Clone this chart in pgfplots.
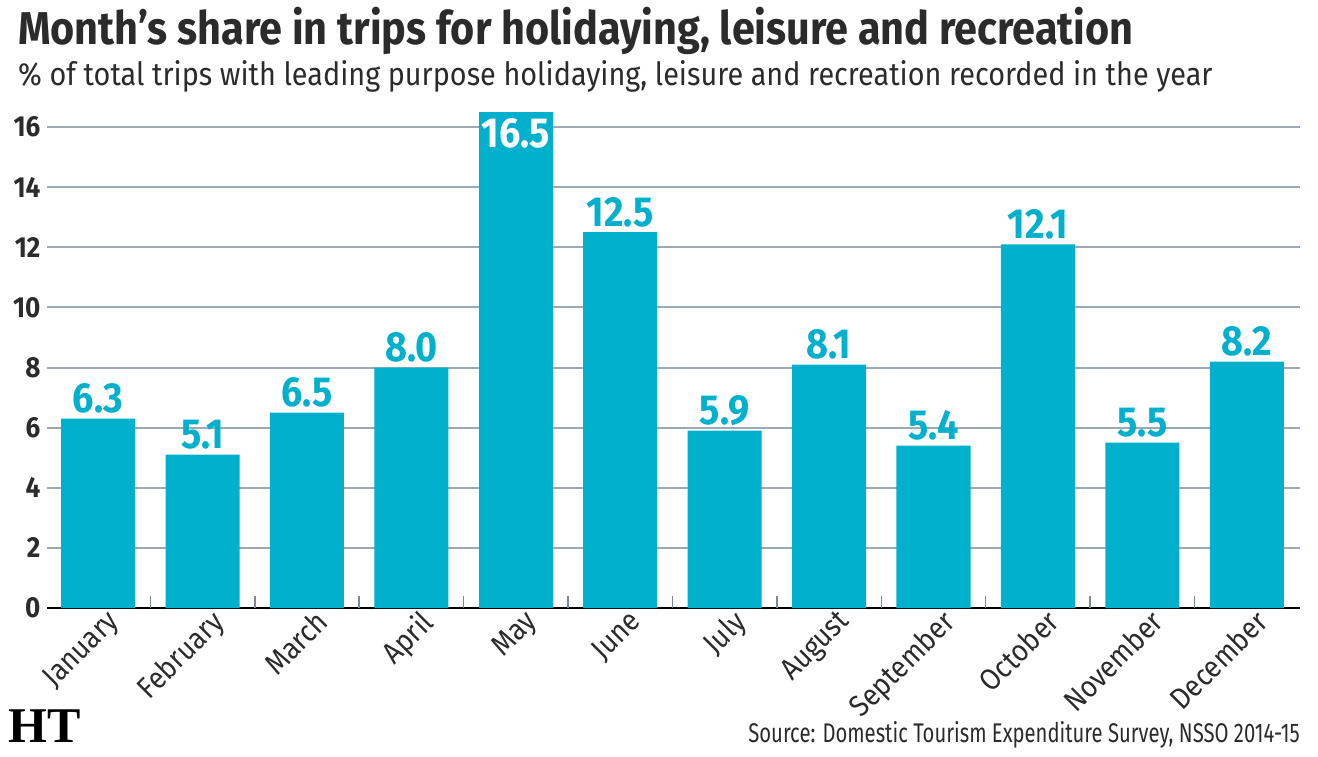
\documentclass[border=0pt]{standalone}
\usepackage{fontspec}
\setmainfont{Fira Sans}[FakeStretch=0.9]
\newfontfamily\srcfont{Fira Sans}[FakeStretch=0.75]
\usepackage{pgfplots}
\pgfplotsset{compat=1.18}
\definecolor{barcol}{HTML}{00B0CC}
\definecolor{gridcol}{HTML}{9DAAB5}
\definecolor{txt}{HTML}{2B2B2B}
\pgfplotstableread{
x y
0 6.3
1 5.1
2 6.5
3 8.0
5 12.5
6 5.9
7 8.1
8 5.4
9 12.1
10 5.5
11 8.2
}\restdata
\pgfplotstableread{
x y
4 16.5
}\maydata
\begin{document}
\begin{tikzpicture}
\useasboundingbox (0,0) rectangle (1318pt,-757pt);
\begin{axis}[
  at={(47pt,-608pt)}, anchor=south west,
  scale only axis, width=1253pt, height=496pt,
  xmin=-0.49, xmax=11.51, ymin=0, ymax=16.5,
  /pgf/number format/assume math mode=true,
  axis x line*=bottom, axis y line*=left,
  x axis line style={black, line width=2pt},
  y axis line style={draw=none},
  ytick={0,2,...,16},
  ymajorgrids, grid style={gridcol, line width=2pt},
  major y tick style={draw=none},
  xtick={0,...,11},
  xticklabels={January,February,March,April,May,June,July,August,September,October,November,December},
  major x tick style={draw=none},
  extra x ticks={0.5,1.5,...,10.5},
  extra x tick labels={},
  extra x tick style={major tick length=12pt, tick align=inside, major x tick style={draw=gridcol!80!black, line width=1.5pt}},
  yticklabel style={font=\fontsize{29}{30}\selectfont\bfseries, text=txt, xshift=-3pt},
  xticklabel style={font=\fontsize{30}{31}\selectfont, text=txt, rotate=45, anchor=north east, inner sep=1pt, xshift=6pt, yshift=-4pt},
]
\addplot[ybar, bar width=74pt, bar shift=0pt, fill=barcol, draw=none,
  nodes near coords={\pgfmathprintnumber[fixed,fixed zerofill,precision=1,assume math mode=true]{\pgfplotspointmeta}},
  nodes near coords style={font=\fontsize{42}{42}\selectfont\bfseries, text=barcol, anchor=south, inner sep=5pt}]
  table[x=x,y=y] {\restdata};
\addplot[ybar, bar width=74pt, bar shift=0pt, fill=barcol, draw=none,
  nodes near coords={\pgfmathprintnumber[fixed,fixed zerofill,precision=1,assume math mode=true]{\pgfplotspointmeta}},
  nodes near coords style={font=\fontsize{42}{42}\selectfont\bfseries, text=white, anchor=north, inner sep=6pt}]
  table[x=x,y=y] {\maydata};
\end{axis}
\node[anchor=base west, inner sep=0pt, text=txt, font=\fontsize{46}{48}\selectfont\bfseries] at (18pt,-45pt) {Month's share in trips for holidaying, leisure and recreation};
\node[anchor=base west, inner sep=0pt, text=txt, font=\fontsize{32}{34}\selectfont] at (18pt,-86pt) {\% of total trips with leading purpose holidaying, leisure and recreation recorded in the year};
\node[anchor=base east, inner sep=0pt, text=txt, font=\fontsize{27}{29}\srcfont\selectfont] at (1300pt,-742pt) {Source: Domestic Tourism Expenditure Survey, NSSO 2014-15};
\node[anchor=base west, inner sep=0pt, text=black, font=\fontsize{50}{50}\selectfont\fontspec{Liberation Serif}\bfseries] at (8pt,-742pt) {HT};
\end{tikzpicture}
\end{document}
